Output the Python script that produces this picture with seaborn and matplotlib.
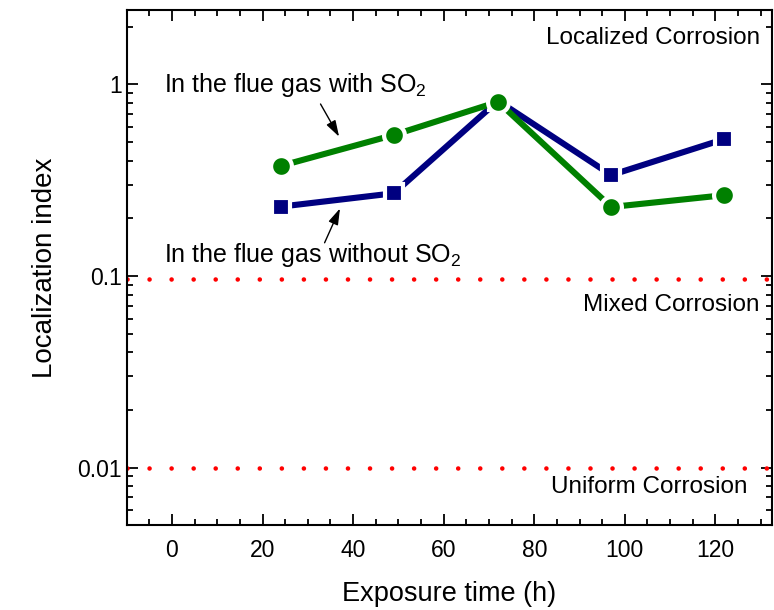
import numpy as np
import pandas as pd
import matplotlib
matplotlib.use("Agg")
import matplotlib.pyplot as plt
import matplotlib.ticker as mticker
import seaborn as sns

# Data
time_with = [24, 49, 72, 97, 122]
index_with = [0.375, 0.544, 0.81, 0.229, 0.264]
time_without = [24, 49, 72, 97, 122]
index_without = [0.230, 0.270, 0.82, 0.336, 0.518]
thresholds = [0.096, 0.01]
y_ticks = [0.01, 0.1, 1]
y_tick_labels = ["0.01", "0.1", "1"]

sns.set_style("ticks")
plt.rcParams['font.family'] = ['Liberation Sans', 'DejaVu Sans']
plt.rcParams['mathtext.fontset'] = 'custom'
plt.rcParams['mathtext.rm'] = 'Liberation Sans'
for k in ['text.color', 'axes.labelcolor', 'xtick.color', 'ytick.color']:
    plt.rcParams[k] = 'black'

df = pd.concat([
    pd.DataFrame({'time': time_without, 'index': index_without, 'series': 'without'}),
    pd.DataFrame({'time': time_with, 'index': index_with, 'series': 'with'}),
])

fig = plt.figure(figsize=(7.74, 6.10), dpi=100)
ax = fig.add_axes([0.1637, 0.1398, 0.8337, 0.8438])

# threshold lines
for t in thresholds:
    ax.axhline(t, color='#ff0000', lw=3.3, linestyle=(0, (0.01, 4.8)),
               dash_capstyle='round', zorder=1)

sns.lineplot(data=df[df.series == 'without'], x='time', y='index', ax=ax,
             color='#000080', lw=4.4, marker='s', markersize=13,
             markeredgecolor='white', markeredgewidth=3, zorder=3)
sns.lineplot(data=df[df.series == 'with'], x='time', y='index', ax=ax,
             color='#008000', lw=4.4, marker='o', markersize=15,
             markeredgecolor='white', markeredgewidth=3, zorder=4)

ax.set_yscale('log')
ax.set_xlim(-10, 132.5)
ax.set_ylim(0.00504, 2.44)

ax.xaxis.set_major_locator(mticker.MultipleLocator(20))
ax.xaxis.set_minor_locator(mticker.MultipleLocator(5))
ax.yaxis.set_major_locator(mticker.FixedLocator(y_ticks))
ax.yaxis.set_major_formatter(mticker.FixedFormatter(y_tick_labels))
ax.yaxis.set_minor_locator(mticker.LogLocator(base=10, subs=np.arange(2, 10)))
ax.yaxis.set_minor_formatter(mticker.NullFormatter())

ax.tick_params(which='both', direction='in', top=True, right=True,
               labelsize=16.5, width=1.3, color='black')
ax.tick_params(which='major', length=8)
ax.tick_params(which='minor', length=4)
ax.tick_params(axis='x', which='major', pad=10)
for s in ax.spines.values():
    s.set_linewidth(1.5)
    s.set_color('black')

ax.set_xlabel('Exposure time (h)', fontsize=19.5, labelpad=14)
ax.set_ylabel('Localization index', fontsize=20, labelpad=14)

# region labels
ax.text(0.982, 0.946, 'Localized Corrosion', transform=ax.transAxes,
        ha='right', va='center', fontsize=17.5)
ax.text(0.980, 0.427, 'Mixed Corrosion', transform=ax.transAxes,
        ha='right', va='center', fontsize=17.5)
ax.text(0.962, 0.073, 'Uniform Corrosion', transform=ax.transAxes,
        ha='right', va='center', fontsize=17.5)

# series annotations
ax.text(-1.7, 0.99, 'In the flue gas with SO$_2$', fontsize=18,
        ha='left', va='center')
ax.text(-1.7, 0.128, 'In the flue gas without SO$_2$', fontsize=18,
        ha='left', va='center')
arrow = dict(arrowstyle='-|>,head_length=0.7,head_width=0.22', color='black',
             lw=1.0, shrinkA=0, shrinkB=0, mutation_scale=14)
ax.annotate('', xy=(36.9, 0.533), xytext=(32.8, 0.789), arrowprops=arrow)
ax.annotate('', xy=(37.1, 0.225), xytext=(33.7, 0.149), arrowprops=arrow)

fig.savefig('out.png', dpi=100)
